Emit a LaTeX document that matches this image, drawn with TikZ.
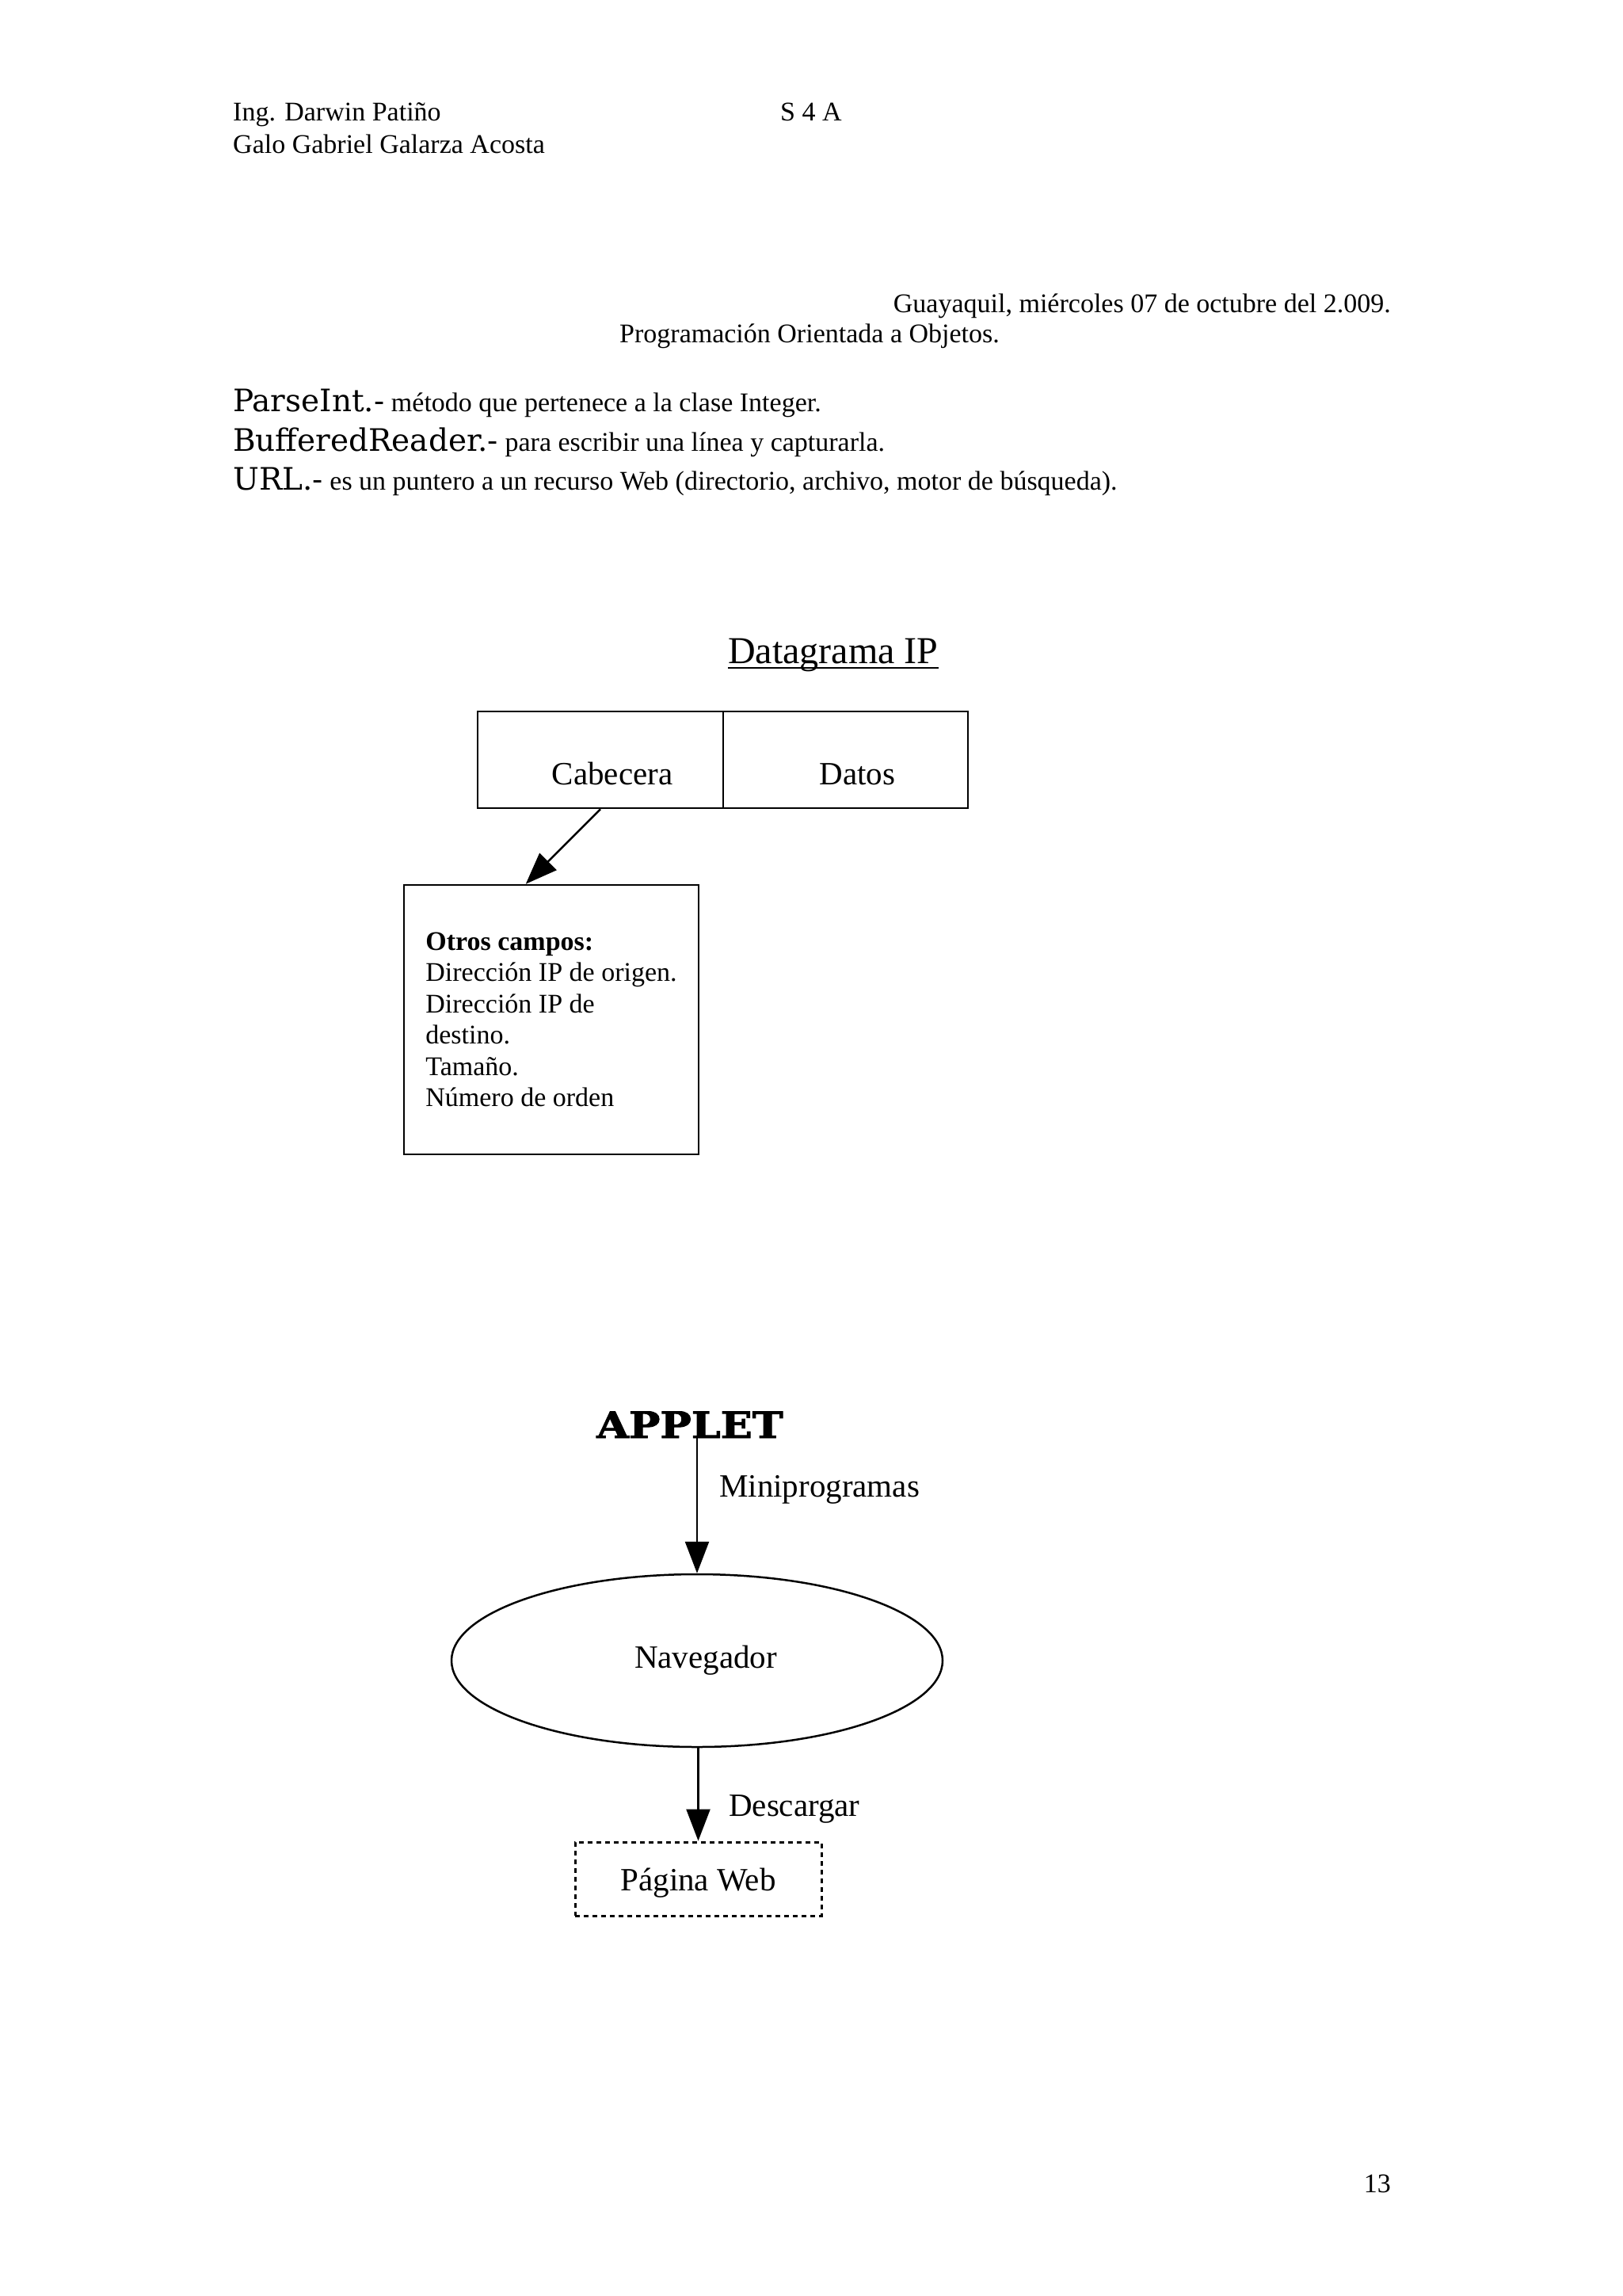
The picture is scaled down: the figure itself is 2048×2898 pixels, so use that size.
\documentclass[tikz,border=0pt]{standalone}
\usepackage{fontspec}
\setmainfont{Liberation Serif}
\newfontfamily\slabfont{DejaVu Serif}
\newfontfamily\stencilfont{DejaVu Serif}[BoldFeatures={FakeBold=2}]
\usetikzlibrary{arrows.meta,shapes.geometric}
\newcommand{\slabtxt}{\slabfont\fontsize{39}{45}\selectfont}
\begin{document}
\begin{tikzpicture}[x=1pt,y=-1pt,
  txt/.style={inner sep=0pt, font=\fontsize{34}{40}\selectfont},
  big/.style={font=\fontsize{41}{48}\selectfont},
  boxline/.style={draw, line width=2.5pt},
  arr/.style={line width=2.5pt, -{Triangle[length=40pt,width=30pt]}}]
\fill[white] (0,0) rectangle (2048,2898);
\useasboundingbox (0,0) rectangle (2048,2898);

% header
\node[txt, anchor=base west] (ing) at (294,153) {Ing. Darwin Patiño};
\node[txt, anchor=base west] (galo) at (294,194) {Galo Gabriel Galarza Acosta};
\node[txt, anchor=base west] (s4a) at (985,153) {S 4 A};
\node[txt, anchor=base east] (fecha) at (1756,394) {Guayaquil, miércoles 07 de octubre del 2.009.};
\node[txt, anchor=base west] (prog) at (782,432) {Programación Orientada a Objetos.};

\node[txt, anchor=base west] (p1) at (294,519) {{\slabtxt ParseInt.-} método que pertenece a la clase Integer.};
\node[txt, anchor=base west] (p2) at (294,569) {{\slabtxt BufferedReader.-} para escribir una línea y capturarla.};
\node[txt, anchor=base west] (p3) at (294,618) {{\slabtxt URL.-} es un puntero a un recurso Web (directorio, archivo, motor de búsqueda).};

% Datagrama IP
\node[anchor=base west, inner sep=0pt, font=\fontsize{48}{56}\selectfont] (dg) at (919,837) {Datagrama IP};
\draw[line width=2.5pt] ([yshift=-6pt]dg.base west) -- ([yshift=-6pt]dg.base east);

\node[boxline, big, inner sep=0pt, minimum width=310pt, minimum height=122pt,
      text height=66pt, text depth=4pt, execute at begin node=\hspace*{30pt}] (cab) at (758,959) {Cabecera};
\node[boxline, big, inner sep=0pt, minimum width=309pt, minimum height=122pt,
      text height=66pt, text depth=4pt, execute at begin node=\hspace*{30pt}] (datos) at (1067.5,959) {Datos};

\node[boxline, inner sep=0pt, minimum width=372pt, minimum height=340pt,
      align=left, font=\fontsize{34}{39.5}\selectfont] (otros) at (696,1287)
  {\textbf{Otros campos:}\\Dirección IP de origen.\\Dirección IP de\\destino.\\Tamaño.\\Número de orden};
\coordinate (ot) at ([xshift=155pt]otros.north west);
\draw[arr] (cab.south) -- (ot);

% Applet
\node[inner sep=0pt, anchor=base, font=\fontsize{46}{56}\selectfont\stencilfont\bfseries] (applet) at (871,1815) {\scalebox{1.14}[1]{APPLET}};
\node[ellipse, boxline, minimum width=620pt, minimum height=218pt, inner sep=0pt, big,
      execute at begin node=\hspace*{22pt}] (nav) at (880,2096) {Navegador};
\draw[arr] (applet.south -| nav.north) -- (nav.north);
\node[big, anchor=base west, inner sep=0pt] (mini) at (908,1889) {Miniprogramas};

\node[draw, line width=3pt, dash pattern=on 6pt off 5pt, minimum width=311pt, minimum height=93pt,
      inner sep=0pt, text height=34pt, text depth=4pt, big] (web) at (881.5,2371.5) {Página Web};
\draw[arr] (nav.south -| web.north) -- (web.north);
\node[big, anchor=base west, inner sep=0pt] (desc) at (920,2292) {Descargar};

\node[txt, anchor=base east] (pg) at (1756,2767) {13};
\end{tikzpicture}
\end{document}
